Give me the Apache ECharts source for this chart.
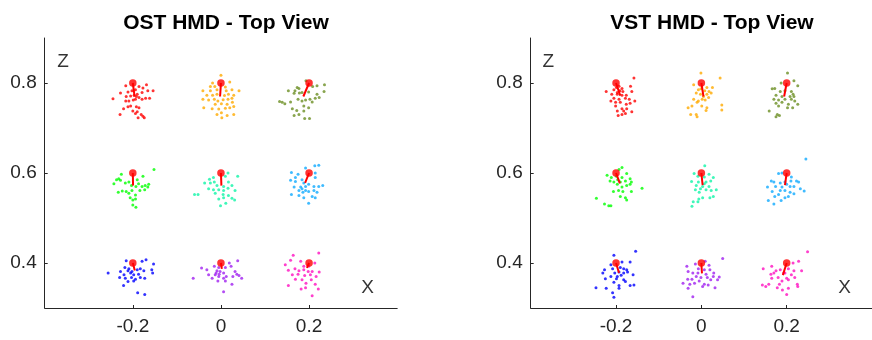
<!DOCTYPE html>
<html>
<head>
<meta charset="utf-8">
<script src="https://cdn.jsdelivr.net/npm/echarts@6/dist/echarts.min.js"></script>
<style>
  html, body { margin: 0; padding: 0; background: #fff; }
  #chart { width: 872px; height: 340px; }
</style>
</head>
<body>
<div id="chart"></div>
<script>
// target grid (x, z) and cluster colours, same order everywhere
const targets = [[-0.2, 0.8], [0, 0.8], [0.2, 0.8], [-0.2, 0.6], [0, 0.6], [0.2, 0.6], [-0.2, 0.4], [0, 0.4], [0.2, 0.4]];
const clusterColors = ['#ff0000', '#ffaa00', '#6b8e23', '#00ff00', '#10f5a8', '#10aaff', '#0000ff', '#a020f0', '#ff10c0'];
const xTicks = [-0.2, 0, 0.2];
const zTicks = [0.4, 0.6, 0.8];

// OST HMD
const ostRed = [[-0.216,0.794],[-0.169,0.796],[-0.186,0.792],[-0.177,0.789],[-0.194,0.785],[-0.166,0.783],[-0.154,0.783],[-0.228,0.778],[-0.211,0.780],[-0.202,0.783],[-0.179,0.779],[-0.190,0.775],[-0.245,0.765],[-0.215,0.770],[-0.205,0.771],[-0.186,0.768],[-0.171,0.766],[-0.162,0.766],[-0.216,0.760],[-0.209,0.760],[-0.199,0.762],[-0.194,0.764],[-0.179,0.764],[-0.205,0.749],[-0.211,0.747],[-0.221,0.743],[-0.192,0.747],[-0.186,0.745],[-0.200,0.738],[-0.190,0.736],[-0.229,0.730],[-0.194,0.732],[-0.181,0.730],[-0.177,0.726],[-0.188,0.723],[-0.174,0.723],[-0.197,0.773],[-0.192,0.770]];
const ostOrange = [[0.000,0.817],[-0.019,0.800],[0.020,0.802],[-0.024,0.792],[-0.014,0.792],[0.010,0.791],[-0.041,0.783],[-0.024,0.783],[-0.009,0.785],[0.012,0.783],[0.025,0.785],[0.041,0.783],[-0.032,0.773],[-0.019,0.773],[-0.009,0.775],[0.008,0.772],[0.017,0.775],[0.029,0.773],[-0.041,0.764],[-0.028,0.762],[-0.015,0.764],[-0.007,0.760],[0.005,0.763],[0.016,0.764],[0.025,0.766],[-0.013,0.753],[0.001,0.754],[0.014,0.753],[0.026,0.757],[-0.039,0.745],[-0.020,0.743],[-0.005,0.742],[0.010,0.744],[0.020,0.745],[0.029,0.748],[0.001,0.734],[-0.009,0.730],[0.014,0.728],[0.029,0.730],[0.002,0.723]];
const ostOlive = [[0.193,0.805],[0.235,0.796],[0.218,0.794],[0.208,0.792],[0.173,0.790],[0.177,0.788],[0.153,0.783],[0.168,0.783],[0.234,0.781],[0.184,0.779],[0.199,0.780],[0.166,0.777],[0.178,0.778],[0.218,0.775],[0.223,0.768],[0.214,0.766],[0.202,0.764],[0.192,0.762],[0.184,0.760],[0.175,0.764],[0.133,0.759],[0.139,0.757],[0.145,0.754],[0.158,0.758],[0.207,0.758],[0.188,0.749],[0.199,0.745],[0.162,0.743],[0.172,0.739],[0.188,0.738],[0.177,0.730],[0.166,0.728],[0.190,0.721],[0.201,0.721]];
const ostGreen = [[-0.152,0.608],[-0.226,0.597],[-0.177,0.593],[-0.237,0.585],[-0.232,0.587],[-0.228,0.584],[-0.243,0.576],[-0.217,0.578],[-0.209,0.580],[-0.190,0.585],[-0.187,0.576],[-0.203,0.572],[-0.193,0.570],[-0.179,0.570],[-0.172,0.572],[-0.166,0.569],[-0.173,0.563],[-0.164,0.575],[-0.233,0.557],[-0.224,0.560],[-0.215,0.559],[-0.209,0.555],[-0.202,0.561],[-0.194,0.551],[-0.184,0.561],[-0.206,0.545],[-0.200,0.540],[-0.194,0.542],[-0.200,0.529],[-0.193,0.524]];
const ostAqua = [[0.016,0.600],[-0.017,0.590],[0.010,0.593],[0.038,0.593],[-0.026,0.586],[-0.037,0.578],[-0.015,0.580],[0.017,0.580],[-0.009,0.572],[0.006,0.570],[0.025,0.572],[-0.028,0.565],[-0.017,0.563],[-0.005,0.563],[0.006,0.561],[0.016,0.566],[0.032,0.561],[-0.060,0.552],[-0.052,0.552],[-0.013,0.555],[0.005,0.552],[0.017,0.550],[-0.005,0.542],[0.006,0.545],[0.025,0.544],[0.031,0.540],[0.011,0.533],[-0.001,0.527],[-0.024,0.578]];
const ostSky = [[0.213,0.616],[0.222,0.617],[0.192,0.611],[0.160,0.601],[0.175,0.597],[0.214,0.600],[0.169,0.590],[0.158,0.584],[0.169,0.581],[0.184,0.585],[0.214,0.590],[0.188,0.578],[0.199,0.575],[0.211,0.570],[0.231,0.572],[0.222,0.570],[0.166,0.569],[0.184,0.565],[0.192,0.561],[0.177,0.561],[0.186,0.557],[0.199,0.559],[0.211,0.561],[0.218,0.557],[0.160,0.552],[0.177,0.550],[0.207,0.548],[0.214,0.545],[0.188,0.545],[0.199,0.533],[0.181,0.569],[0.192,0.570]];
const ostBlue = [[-0.215,0.405],[-0.179,0.404],[-0.170,0.407],[-0.153,0.398],[-0.256,0.378],[-0.228,0.381],[-0.218,0.390],[-0.209,0.387],[-0.190,0.385],[-0.183,0.387],[-0.175,0.383],[-0.157,0.385],[-0.155,0.378],[-0.220,0.374],[-0.205,0.378],[-0.198,0.374],[-0.187,0.375],[-0.230,0.368],[-0.217,0.366],[-0.203,0.368],[-0.194,0.364],[-0.183,0.368],[-0.173,0.366],[-0.211,0.359],[-0.198,0.360],[-0.221,0.350],[-0.189,0.334],[-0.173,0.330],[-0.202,0.381],[-0.211,0.383]];
const ostPurple = [[0.038,0.405],[0.019,0.400],[-0.015,0.393],[-0.005,0.390],[0.010,0.390],[-0.044,0.389],[0.023,0.393],[-0.032,0.385],[-0.009,0.383],[-0.002,0.381],[0.006,0.378],[-0.028,0.374],[-0.013,0.374],[-0.005,0.370],[0.012,0.370],[0.032,0.381],[0.036,0.375],[0.041,0.372],[0.047,0.366],[-0.063,0.366],[-0.020,0.366],[0.006,0.366],[0.027,0.370],[-0.007,0.360],[0.010,0.360],[0.025,0.353],[0.006,0.336],[-0.011,0.378],[-0.004,0.375]];
const ostPink = [[0.222,0.422],[0.164,0.417],[0.158,0.406],[0.181,0.404],[0.213,0.400],[0.146,0.396],[0.153,0.384],[0.168,0.387],[0.177,0.383],[0.188,0.385],[0.207,0.381],[0.223,0.380],[0.162,0.374],[0.175,0.375],[0.190,0.372],[0.203,0.374],[0.216,0.370],[0.169,0.364],[0.184,0.363],[0.205,0.363],[0.153,0.350],[0.193,0.355],[0.214,0.353],[0.221,0.342],[0.182,0.342],[0.192,0.345],[0.207,0.327],[0.198,0.381],[0.188,0.393],[0.199,0.393]];
const ostMeans = [[-0.196,0.770],[-0.002,0.770],[0.187,0.770],[-0.1995,0.572],[0.001,0.572],[0.191,0.578],[-0.1955,0.3835],[0.002,0.387],[0.195,0.389]];

// VST HMD
const vstRed = [[-0.158,0.811],[-0.223,0.781],[-0.193,0.793],[-0.186,0.788],[-0.166,0.793],[-0.205,0.785],[-0.191,0.783],[-0.184,0.781],[-0.163,0.781],[-0.210,0.775],[-0.197,0.775],[-0.186,0.773],[-0.176,0.773],[-0.205,0.766],[-0.193,0.764],[-0.178,0.766],[-0.169,0.764],[-0.212,0.760],[-0.156,0.760],[-0.201,0.757],[-0.190,0.757],[-0.176,0.753],[-0.167,0.755],[-0.201,0.749],[-0.186,0.743],[-0.175,0.743],[-0.197,0.738],[-0.182,0.738],[-0.163,0.736],[-0.195,0.728],[-0.186,0.730],[-0.178,0.732],[-0.197,0.779],[-0.199,0.790]];
const vstOrange = [[-0.001,0.822],[0.044,0.811],[-0.018,0.796],[0.013,0.790],[0.026,0.790],[-0.007,0.785],[0.008,0.783],[0.018,0.781],[-0.012,0.778],[-0.002,0.775],[0.013,0.775],[0.023,0.778],[0.005,0.770],[0.017,0.768],[0.002,0.764],[-0.018,0.764],[-0.007,0.760],[0.009,0.762],[-0.010,0.757],[-0.022,0.749],[-0.031,0.745],[0.001,0.749],[0.013,0.745],[0.048,0.751],[0.048,0.740],[0.011,0.739],[-0.025,0.730],[-0.012,0.730],[-0.010,0.725],[-0.001,0.787]];
const vstOlive = [[0.202,0.822],[0.217,0.805],[0.187,0.800],[0.172,0.788],[0.166,0.787],[0.226,0.794],[0.185,0.781],[0.196,0.783],[0.211,0.781],[0.215,0.775],[0.175,0.773],[0.189,0.770],[0.208,0.770],[0.217,0.770],[0.170,0.764],[0.181,0.762],[0.196,0.764],[0.211,0.764],[0.219,0.760],[0.175,0.755],[0.189,0.757],[0.204,0.753],[0.226,0.753],[0.181,0.749],[0.202,0.745],[0.214,0.745],[0.159,0.738],[0.178,0.730],[0.183,0.728],[0.175,0.725]];
const vstGreen = [[-0.186,0.612],[-0.193,0.608],[-0.221,0.595],[-0.175,0.599],[-0.211,0.590],[-0.199,0.593],[-0.186,0.590],[-0.167,0.587],[-0.214,0.582],[-0.205,0.580],[-0.190,0.580],[-0.178,0.582],[-0.164,0.580],[-0.197,0.575],[-0.175,0.572],[-0.167,0.575],[-0.186,0.569],[-0.139,0.566],[-0.206,0.559],[-0.184,0.559],[-0.164,0.559],[-0.194,0.561],[-0.190,0.548],[-0.178,0.545],[-0.175,0.540],[-0.246,0.544],[-0.227,0.531],[-0.217,0.527],[-0.212,0.527],[-0.196,0.585]];
const vstAqua = [[0.008,0.616],[-0.017,0.599],[-0.008,0.593],[0.018,0.597],[0.007,0.591],[0.028,0.590],[-0.023,0.581],[-0.007,0.580],[0.011,0.580],[0.022,0.582],[-0.012,0.572],[0.003,0.570],[0.018,0.570],[-0.002,0.565],[0.011,0.563],[0.023,0.561],[0.035,0.563],[-0.014,0.563],[-0.005,0.557],[0.020,0.545],[0.028,0.548],[0.003,0.545],[-0.006,0.542],[-0.019,0.536],[-0.008,0.536],[-0.022,0.526],[0.007,0.576]];
const vstSky = [[0.245,0.631],[0.181,0.599],[0.189,0.600],[0.211,0.591],[0.170,0.580],[0.164,0.582],[0.185,0.578],[0.196,0.580],[0.210,0.582],[0.223,0.582],[0.228,0.580],[0.155,0.569],[0.174,0.570],[0.189,0.569],[0.208,0.570],[0.217,0.570],[0.232,0.565],[0.241,0.560],[0.166,0.559],[0.185,0.561],[0.196,0.561],[0.208,0.557],[0.217,0.554],[0.181,0.552],[0.172,0.548],[0.204,0.548],[0.157,0.539],[0.170,0.531],[0.187,0.539],[0.196,0.545],[0.200,0.575]];
const vstBlue = [[-0.205,0.417],[-0.154,0.426],[-0.186,0.402],[-0.167,0.402],[-0.212,0.396],[-0.190,0.390],[-0.182,0.387],[-0.227,0.385],[-0.208,0.387],[-0.175,0.385],[-0.231,0.378],[-0.203,0.378],[-0.193,0.380],[-0.182,0.378],[-0.173,0.380],[-0.160,0.374],[-0.212,0.370],[-0.197,0.370],[-0.188,0.373],[-0.225,0.365],[-0.199,0.365],[-0.182,0.363],[-0.178,0.359],[-0.205,0.357],[-0.193,0.350],[-0.167,0.350],[-0.158,0.351],[-0.247,0.345],[-0.223,0.344],[-0.193,0.344],[-0.208,0.334],[-0.205,0.324]];
const vstPurple = [[0.050,0.410],[0.009,0.404],[-0.014,0.398],[-0.034,0.393],[0.018,0.395],[-0.007,0.387],[0.007,0.385],[0.020,0.385],[-0.031,0.381],[-0.020,0.378],[-0.008,0.378],[0.011,0.375],[0.029,0.378],[-0.012,0.370],[-0.001,0.368],[0.014,0.368],[0.028,0.370],[0.042,0.369],[-0.032,0.364],[-0.022,0.364],[-0.005,0.360],[0.022,0.363],[0.038,0.363],[-0.043,0.355],[-0.027,0.353],[-0.016,0.355],[0.007,0.353],[0.016,0.351],[0.003,0.348],[0.032,0.345],[-0.031,0.344],[-0.020,0.325]];
const vstPink = [[0.249,0.425],[0.228,0.404],[0.215,0.400],[0.145,0.387],[0.165,0.393],[0.175,0.383],[0.185,0.385],[0.204,0.387],[0.217,0.383],[0.235,0.383],[0.163,0.375],[0.170,0.378],[0.193,0.378],[0.211,0.374],[0.180,0.368],[0.200,0.366],[0.219,0.368],[0.165,0.366],[0.189,0.360],[0.204,0.363],[0.143,0.351],[0.151,0.348],[0.158,0.353],[0.183,0.353],[0.225,0.353],[0.178,0.345],[0.190,0.340],[0.204,0.344],[0.226,0.348],[0.200,0.330],[0.196,0.378]];
const vstMeans = [[-0.190,0.772],[0.005,0.770],[0.194,0.770],[-0.191,0.577],[0.003,0.573],[0.196,0.573],[-0.193,0.378],[0.0015,0.377],[0.191,0.373]];

// in-plot axis letters
const ostLetters = [[-0.3585, 0.847, 'Z'], [0.333, 0.344, 'X']];
const vstLetters = [[-0.3585, 0.847, 'Z'], [0.336, 0.344, 'X']];

const FONT = 'Liberation Sans, Arial, Helvetica, sans-serif';
const AXIS_COLOR = '#262626';

function panelSeries(idx, clusters, means, letters) {
  const out = [];
  clusters.forEach((pts, i) => {
    out.push({
      type: 'scatter', xAxisIndex: idx, yAxisIndex: idx, data: pts,
      symbol: 'circle', symbolSize: 3, silent: true, z: 2,
      itemStyle: { color: clusterColors[i] },
    });
  });
  clusters.forEach((pts, i) => {
    out.push({
      type: 'line', xAxisIndex: idx, yAxisIndex: idx,
      data: [targets[i], means[i]], symbol: 'none', silent: true, z: 3,
      lineStyle: { color: '#ff0000', width: 2 },
    });
  });
  out.push({
    type: 'scatter', xAxisIndex: idx, yAxisIndex: idx, data: targets,
    symbolSize: 7.5, silent: true, z: 4, itemStyle: { color: '#ff0000' },
  });
  out.push({
    type: 'scatter', xAxisIndex: idx, yAxisIndex: idx, data: letters,
    symbolSize: 0, silent: true, z: 5,
    label: {
      show: true, position: 'inside', formatter: (p) => p.value[2],
      fontSize: 19, color: '#000', fontFamily: FONT,
    },
  });
  return out;
}

function xAxisFor(idx) {
  return {
    type: 'value', gridIndex: idx, min: -0.4, max: 0.4,
    splitLine: { show: false },
    axisLine: { show: true, onZero: false, lineStyle: { color: AXIS_COLOR, width: 1 } },
    axisTick: { show: true, inside: true, length: 3, customValues: xTicks, lineStyle: { color: AXIS_COLOR } },
    axisLabel: { customValues: xTicks, fontSize: 19, color: AXIS_COLOR, margin: 9, fontFamily: FONT },
  };
}

function yAxisFor(idx) {
  return {
    type: 'value', gridIndex: idx, min: 0.3, max: 0.9,
    splitLine: { show: false },
    axisLine: { show: true, onZero: false, lineStyle: { color: AXIS_COLOR, width: 1 } },
    axisTick: { show: true, inside: true, length: 3, customValues: zTicks, lineStyle: { color: AXIS_COLOR } },
    axisLabel: { customValues: zTicks, fontSize: 19, color: AXIS_COLOR, margin: 8, fontFamily: FONT },
  };
}

const chart = echarts.init(document.getElementById('chart'));
chart.setOption({
  animation: false,
  backgroundColor: '#fff',
  title: [
    { text: 'OST HMD - Top View', left: 221, top: 8, textAlign: 'center',
      textStyle: { fontSize: 21, fontWeight: 'bold', color: '#000', fontFamily: FONT } },
    { text: 'VST HMD - Top View', left: 707, top: 8, textAlign: 'center',
      textStyle: { fontSize: 21, fontWeight: 'bold', color: '#000', fontFamily: FONT } },
  ],
  grid: [
    { left: 44.7, top: 38, width: 352.5, height: 270, containLabel: false },
    { left: 530.7, top: 38, width: 352.5, height: 270, containLabel: false },
  ],
  xAxis: [xAxisFor(0), xAxisFor(1)],
  yAxis: [yAxisFor(0), yAxisFor(1)],
  series: [
    ...panelSeries(0, [ostRed, ostOrange, ostOlive, ostGreen, ostAqua, ostSky, ostBlue, ostPurple, ostPink], ostMeans, ostLetters),
    ...panelSeries(1, [vstRed, vstOrange, vstOlive, vstGreen, vstAqua, vstSky, vstBlue, vstPurple, vstPink], vstMeans, vstLetters),
  ],
});
</script>
</body>
</html>
